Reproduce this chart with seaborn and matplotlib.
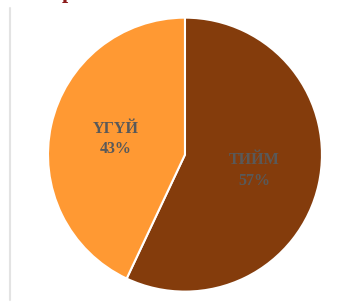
import matplotlib

matplotlib.use("Agg")

import matplotlib.pyplot as plt
from matplotlib.lines import Line2D
import seaborn as sns

labels = ["ТИЙМ", "ҮГҮЙ"]
shares = [57, 43]
colors = ["#843C0C", "#FF9933"]

sns.set_theme(style="white")
plt.rcParams["font.family"] = ["Liberation Serif", "DejaVu Serif"]

fig = plt.figure(figsize=(3.49, 3.02), dpi=100)
ax = fig.add_axes([0.1375, 0.033, 0.785, 0.91])

wedges, texts = ax.pie(
    shares,
    colors=colors,
    startangle=90,
    counterclock=False,
    labels=[f"{l}\n{s}%" for l, s in zip(labels, shares)],
    labeldistance=0.52,
    wedgeprops={"edgecolor": "white", "linewidth": 1.5},
    textprops={"color": "#595959", "fontsize": 11.5, "fontweight": "bold",
               "ha": "center", "va": "center", "linespacing": 1.4},
)
ax.set_xlim(-1, 1)
ax.set_ylim(-1, 1)
ax.set_aspect("equal")

# frame line on the left and clipped title fragment at the top
fig.add_artist(Line2D([0.028, 0.028], [0.007, 0.973], transform=fig.transFigure,
                      color="#E3E3E3", linewidth=1.5))
fig.text(0.195, 1.006, "р", color="#8B1A1A", fontsize=16, fontweight="bold",
         ha="center", va="baseline")

plt.savefig("out.png", dpi=100)
plt.close()
